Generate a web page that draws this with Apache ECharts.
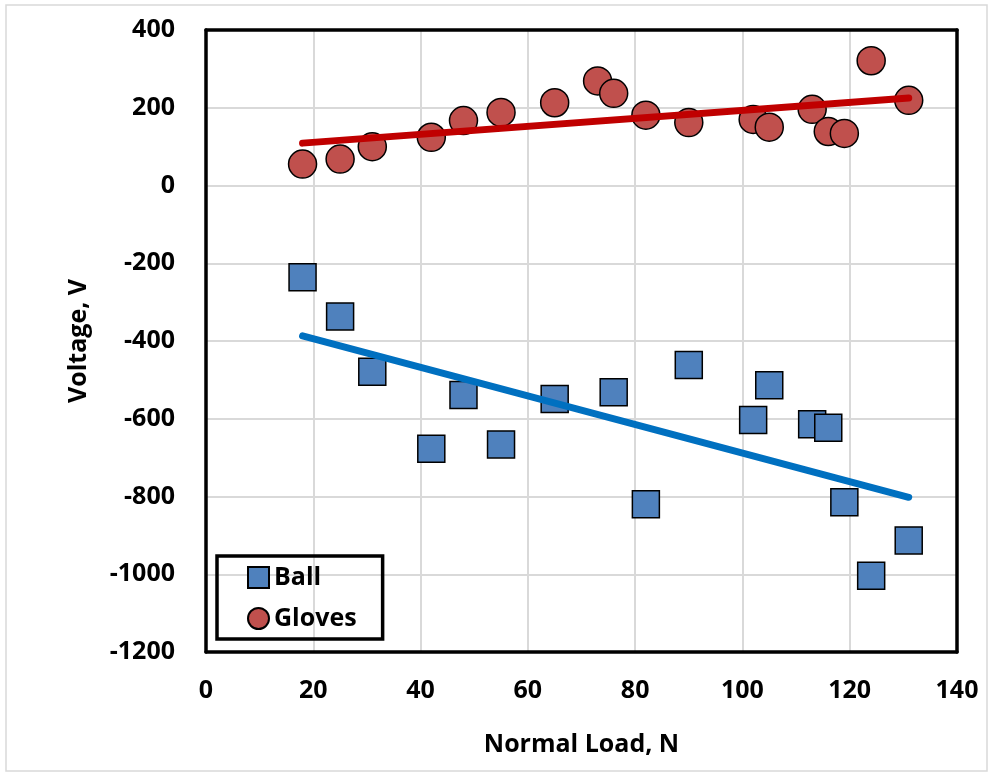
<!DOCTYPE html>
<html>
<head>
<meta charset="utf-8">
<script src="https://cdn.jsdelivr.net/npm/echarts@6/dist/echarts.min.js"></script>
<style>
  html, body { margin: 0; padding: 0; background: #fff; }
  #chart { width: 993px; height: 776px; }
</style>
</head>
<body>
<div id="chart"></div>
<script>
// values
const ballLoad = [18, 25, 31, 42, 48, 55, 65, 76, 82, 90, 102, 105, 113, 116, 119, 124, 131];
const ballVoltage = [-236, -337, -479, -677, -539, -666, -549, -532, -820, -462, -603, -514, -614, -623, -815, -1004, -913];

const glovesLoad = [18, 25, 31, 42, 48, 55, 65, 73, 76, 82, 90, 102, 105, 113, 116, 119, 124, 131];
const glovesVoltage = [55, 68, 100, 124, 167, 188, 213, 269, 237, 181, 162, 170, 150, 196, 139, 134, 321, 219];

// trend line end points
const ballTrend = [[18, -387], [131, -802]];
const glovesTrend = [[18, 109], [131, 225]];

const xTicks = { min: 0, max: 140, step: 20 };
const yTicks = { min: -1200, max: 400, step: 200 };

const font = "'Open Sans', Lato, sans-serif";
const zip = (xs, ys) => xs.map((x, i) => [x, ys[i]]);
const label = { fontFamily: font, fontWeight: "bold", fontSize: 25, color: "#000" };
const frame = { show: true, onZero: false, lineStyle: { color: "#000", width: 3.5 } };

const chart = echarts.init(document.getElementById("chart"));
chart.setOption({
  backgroundColor: "#fff",
  animation: false,
  graphic: [{
    type: "rect",
    shape: { x: 6, y: 5, width: 981, height: 766 },
    style: { fill: "none", stroke: "#d9d9d9", lineWidth: 1.5 },
    silent: true
  }],
  grid: { left: 206, top: 30, right: 36, bottom: 124 },
  legend: {
    data: ["Ball", "Gloves"],
    orient: "vertical",
    left: 217, top: 556,
    borderColor: "#000", borderWidth: 3.5,
    padding: [9, 26, 8, 30],
    itemGap: 16,
    itemWidth: 21, itemHeight: 21,
    textStyle: { fontFamily: font, fontWeight: "bold", fontSize: 25, color: "#000" }
  },
  xAxis: [{
    type: "value",
    min: xTicks.min, max: xTicks.max, interval: xTicks.step,
    name: "Normal Load, N",
    nameLocation: "middle", nameGap: 80,
    nameTextStyle: label,
    axisLine: frame,
    axisTick: { show: false },
    axisLabel: Object.assign({ margin: 26 }, label),
    splitLine: { lineStyle: { color: "#d9d9d9", width: 2 } }
  }, {
    type: "value", position: "top",
    min: xTicks.min, max: xTicks.max, interval: xTicks.step,
    axisLine: frame, axisTick: { show: false }, axisLabel: { show: false },
    splitLine: { show: false }
  }],
  yAxis: [{
    type: "value",
    min: yTicks.min, max: yTicks.max, interval: yTicks.step,
    name: "Voltage, V",
    nameLocation: "middle", nameGap: 115,
    nameTextStyle: label,
    axisLine: frame,
    axisTick: { show: false },
    axisLabel: Object.assign({ margin: 31, formatter: (v) => String(v) }, label),
    splitLine: { lineStyle: { color: "#d9d9d9", width: 2 } }
  }, {
    type: "value", position: "right",
    min: yTicks.min, max: yTicks.max, interval: yTicks.step,
    axisLine: frame, axisTick: { show: false }, axisLabel: { show: false },
    splitLine: { show: false }
  }],
  series: [
    {
      name: "Ball", type: "scatter", symbol: "rect", symbolSize: 27,
      data: zip(ballLoad, ballVoltage),
      itemStyle: { color: "#4f81bd", borderColor: "#000", borderWidth: 1.5, opacity: 1 },
      z: 2
    },
    {
      name: "Gloves", type: "scatter", symbol: "circle", symbolSize: 28,
      data: zip(glovesLoad, glovesVoltage),
      itemStyle: { color: "#c0504d", borderColor: "#000", borderWidth: 1.5, opacity: 1 },
      z: 2
    },
    {
      name: "Ball trend", type: "line", data: ballTrend, showSymbol: false, silent: true,
      lineStyle: { color: "#0070c0", width: 7, cap: "round" }, z: 3
    },
    {
      name: "Gloves trend", type: "line", data: glovesTrend, showSymbol: false, silent: true,
      lineStyle: { color: "#c00000", width: 7, cap: "round" }, z: 3
    }
  ]
});
</script>
</body>
</html>
